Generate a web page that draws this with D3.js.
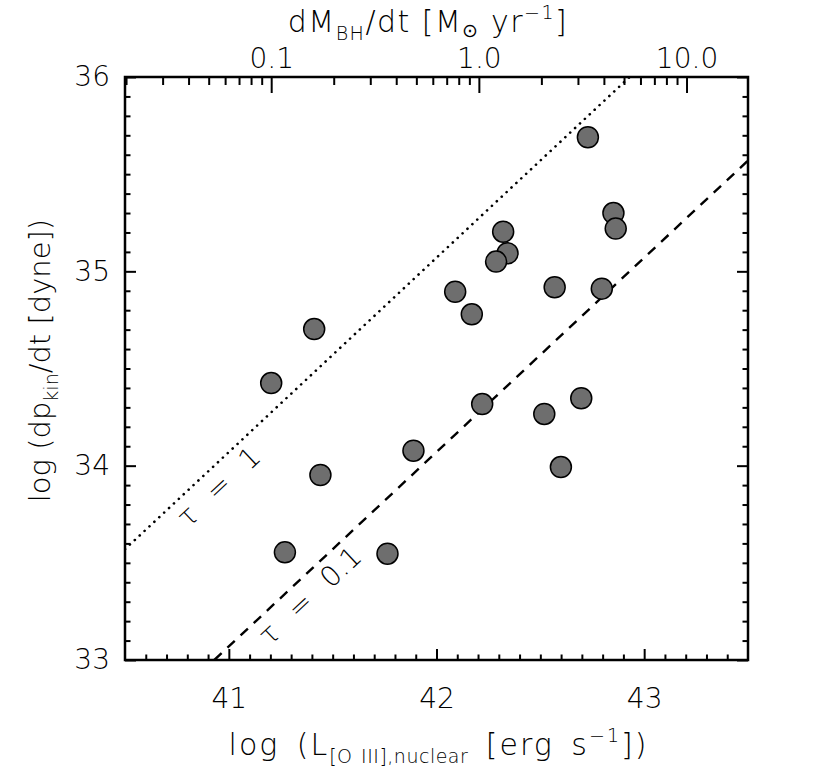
<!DOCTYPE html>
<html>
<head>
<meta charset="utf-8">
<script src="https://cdn.jsdelivr.net/npm/d3@7"></script>
<style>
  body { margin: 0; background: #fff; }
  text { font-family: "DejaVu Sans", sans-serif; font-weight: 200; fill: #000; }
</style>
</head>
<body>
<script>
(function (d3) {
  "use strict";

  /***** Data *****/
  // log L[O III],nuclear (erg/s)
  var logLOiii = [42.729, 42.852, 42.863, 42.321, 42.342, 42.287, 42.090, 42.170, 42.569, 42.796,
                  41.441, 41.270, 41.411, 41.204, 42.220, 41.889, 42.519, 42.697, 42.599, 41.764];
  // log dp_kin/dt (dyne)
  var logDpdt = [35.69, 35.30, 35.22, 35.204, 35.093, 35.050, 34.895, 34.779, 34.918, 34.911,
                 33.952, 33.554, 34.703, 34.425, 34.317, 34.077, 34.266, 34.347, 33.993, 33.547];

  // tau lines, end points [logL, logDpdt]
  var tauLabels = ["\u03c4 = 1", "\u03c4 = 0.1"];
  var tauStart = [[40.5, 33.57], [40.93, 33.0]];
  var tauEnd = [[42.93, 36.0], [43.5, 35.57]];
  var tauLabelAt = [40.89, 41.33];    // logL where the label sits along its line

  var xTicks = [41, 42, 43];
  var yTicks = [33, 34, 35, 36];
  var topTicks = [0.1, 1, 10];
  var topTickLabels = ["0.1", "1.0", "10.0"];
  var logLAtUnitRate = 42.204;        // log L where dM_BH/dt = 1 Msun/yr

  /***** Configuration *****/
  var margin = { top: 77, right: 82, bottom: 116, left: 125 };
  var width = 830 - margin.left - margin.right;
  var height = 776 - margin.top - margin.bottom;
  var fontSize = 28;
  var titleSize = 30;

  /***** Scales *****/
  var xScale = d3.scaleLinear().domain([40.5, 43.5]).range([0, width]);
  var yScale = d3.scaleLinear().domain([33, 36]).range([height, 0]);
  var topScale = d3.scaleLog()
      .domain([Math.pow(10, 40.5 - logLAtUnitRate), Math.pow(10, 43.5 - logLAtUnitRate)])
      .range([0, width]);

  var xMinor = d3.range(406, 435).map(function (v) { return v / 10; })
      .filter(function (v) { return xTicks.indexOf(v) < 0; });
  var yMinor = d3.range(331, 360).map(function (v) { return v / 10; })
      .filter(function (v) { return yTicks.indexOf(v) < 0; });
  var topMinor = [];
  [0.01, 0.1, 1, 10].forEach(function (dec) {
    d3.range(2, 10).forEach(function (m) {
      var v = +(m * dec).toPrecision(3);
      if (v >= topScale.domain()[0] && v <= topScale.domain()[1]) topMinor.push(v);
    });
  });

  /***** SVG *****/
  var svg = d3.select("body").append("svg")
      .attr("width", 830)
      .attr("height", 776);

  var g = svg.append("g")
      .attr("transform", "translate(" + margin.left + "," + margin.top + ")");

  g.append("clipPath").attr("id", "plotClip")
    .append("rect").attr("width", width).attr("height", height);

  /***** Axes *****/
  function styleAxis(sel) {
    sel.select(".domain").remove();
    sel.selectAll(".tick line").attr("stroke", "#000").attr("stroke-width", 2);
    sel.selectAll(".tick text")
      .style("font-size", fontSize + "px")
      .style("font-family", "'DejaVu Sans', sans-serif")
      .style("font-weight", 200)
      .attr("fill", "#000");
  }

  // bottom
  g.append("g").attr("transform", "translate(0," + height + ")")
    .call(d3.axisBottom(xScale).tickValues(xMinor).tickSize(-5.5).tickFormat(""))
    .call(styleAxis);
  g.append("g").attr("transform", "translate(0," + height + ")")
    .call(d3.axisBottom(xScale).tickValues(xTicks).tickSize(-11).tickPadding(28)
      .tickFormat(d3.format("d")))
    .call(styleAxis);

  // left
  g.append("g")
    .call(d3.axisLeft(yScale).tickValues(yMinor).tickSize(-5.5).tickFormat(""))
    .call(styleAxis);
  g.append("g")
    .call(d3.axisLeft(yScale).tickValues(yTicks).tickSize(-11).tickPadding(15)
      .tickFormat(d3.format("d")))
    .call(styleAxis);

  // right
  g.append("g").attr("transform", "translate(" + width + ",0)")
    .call(d3.axisRight(yScale).tickValues(yMinor).tickSize(-5.5).tickFormat(""))
    .call(styleAxis);
  g.append("g").attr("transform", "translate(" + width + ",0)")
    .call(d3.axisRight(yScale).tickValues(yTicks).tickSize(-11).tickFormat(""))
    .call(styleAxis);

  // top (accretion rate)
  g.append("g")
    .call(d3.axisTop(topScale).tickValues(topMinor).tickSize(-8).tickFormat(""))
    .call(styleAxis);
  g.append("g")
    .call(d3.axisTop(topScale).tickValues(topTicks).tickSize(-16).tickPadding(9)
      .tickFormat(function (d, i) { return topTickLabels[i]; }))
    .call(styleAxis);

  /***** Tau lines *****/
  var line = d3.line()
      .x(function (d) { return xScale(d[0]); })
      .y(function (d) { return yScale(d[1]); });

  var lineGroup = g.append("g").attr("clip-path", "url(#plotClip)");
  lineGroup.append("path")
    .attr("d", line([tauStart[0], tauEnd[0]]))
    .attr("fill", "none").attr("stroke", "#000").attr("stroke-width", 2.6)
    .attr("stroke-linecap", "round").attr("stroke-dasharray", "0.1,6.6");
  lineGroup.append("path")
    .attr("d", line([tauStart[1], tauEnd[1]]))
    .attr("fill", "none").attr("stroke", "#000").attr("stroke-width", 2.4)
    .attr("stroke-dasharray", "10,8");

  tauLabels.forEach(function (label, i) {
    var s = tauStart[i], e = tauEnd[i];
    var px0 = xScale(s[0]), py0 = yScale(s[1]), px1 = xScale(e[0]), py1 = yScale(e[1]);
    var ang = Math.atan2(py1 - py0, px1 - px0);
    var t = (tauLabelAt[i] - s[0]) / (e[0] - s[0]);
    var cx = px0 + t * (px1 - px0), cy = py0 + t * (py1 - py0);
    var off = 18;
    cx += -Math.sin(ang) * off;
    cy += Math.cos(ang) * off;
    g.append("text")
      .attr("transform", "translate(" + cx + "," + cy + ") rotate(" + (ang * 180 / Math.PI) + ")")
      .attr("text-anchor", "middle")
      .attr("dy", "0.36em")
      .style("font-size", fontSize + "px")
      .style("word-spacing", "13px")
      .text(label);
  });

  /***** Points *****/
  g.append("g").selectAll("circle")
    .data(logLOiii)
    .join("circle")
      .attr("cx", function (d) { return xScale(d); })
      .attr("cy", function (d, i) { return yScale(logDpdt[i]); })
      .attr("r", 10.5)
      .attr("fill", "#6e6e6e")
      .attr("stroke", "#000")
      .attr("stroke-width", 1.5);

  /***** Frame *****/
  g.append("rect")
    .attr("width", width).attr("height", height)
    .attr("fill", "none").attr("stroke", "#000").attr("stroke-width", 2.5);

  /***** Axis titles *****/
  var small = Math.round(titleSize * 0.62) + "px";

  var xTitle = svg.append("text")
      .attr("x", margin.left + width / 2 + 2).attr("y", 755)
      .attr("text-anchor", "middle")
      .style("font-size", titleSize + "px")
      .style("letter-spacing", "2px")
      .style("word-spacing", "6px");
  xTitle.append("tspan").text("log (L");
  xTitle.append("tspan").attr("dy", 8).style("font-size", small)
    .style("letter-spacing", "0.5px").style("word-spacing", "2px").text("[O III],nuclear");
  xTitle.append("tspan").attr("dy", -8).text(" [erg s");
  xTitle.append("tspan").attr("dy", -13).style("font-size", small).text("\u22121");
  xTitle.append("tspan").attr("dy", 13).text("])");

  var yTitle = svg.append("text")
      .attr("transform", "translate(50," + (margin.top + height / 2 - 8) + ") rotate(-90)")
      .attr("text-anchor", "middle")
      .style("font-size", "29px");
  yTitle.append("tspan").text("log (dp");
  yTitle.append("tspan").attr("dy", 8).style("font-size", small).text("kin");
  yTitle.append("tspan").attr("dy", -8).text("/dt [dyne])");

  var topTitle = svg.append("text")
      .attr("x", 428).attr("y", 32)
      .attr("text-anchor", "middle")
      .style("font-size", titleSize + "px")
      .style("letter-spacing", "1.5px");
  topTitle.append("tspan").text("dM");
  topTitle.append("tspan").attr("dy", 8).style("font-size", small).text("BH");
  topTitle.append("tspan").attr("dy", -8).text("/dt [M");
  topTitle.append("tspan").attr("dy", 5).style("font-size", small).text("\u2299");
  topTitle.append("tspan").attr("dy", -5).text(" yr");
  topTitle.append("tspan").attr("dy", -13).style("font-size", small).text("\u22121");
  topTitle.append("tspan").attr("dy", 13).text("]");

})(d3);
</script>
</body>
</html>
